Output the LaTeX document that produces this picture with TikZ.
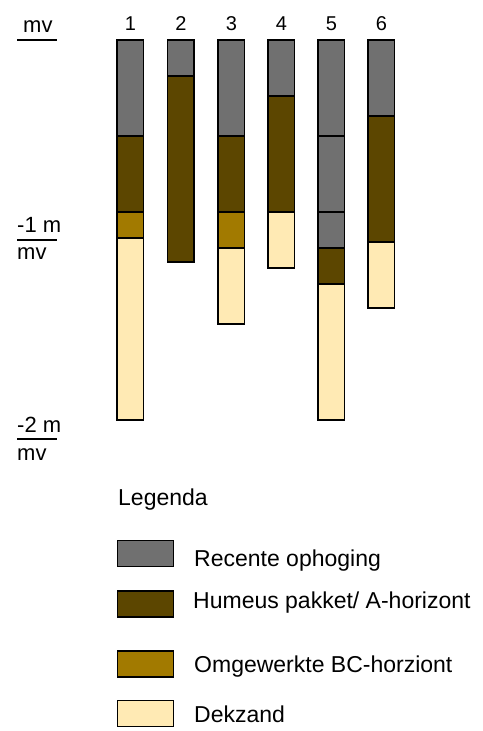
\documentclass[tikz,border=0pt]{standalone}
\usepackage{fontspec}
\setmainfont{Liberation Sans}
\definecolor{recent}{HTML}{707070}
\definecolor{humeus}{HTML}{5C4600}
\definecolor{bchor}{HTML}{A27A00}
\definecolor{dekzand}{HTML}{FFEAB4}
\begin{document}
\begin{tikzpicture}[x=1pt,y=-1pt,
  layer/.style={draw=black, line width=1.2pt},
  lbl/.style={inner sep=0pt, anchor=base west, font=\fontsize{23}{27}\selectfont},
  num/.style={inner sep=0pt, anchor=base, font=\fontsize{20}{24}\selectfont},
  scaleline/.style={draw=black, line width=1.2pt}]
\useasboundingbox (0,0) rectangle (482,731);
% columns
\foreach \x/\a/\b/\c in {
  117/40/136/recent, 117/136/212/humeus, 117/212/238/bchor, 117/238/420/dekzand,
  167.5/40/76/recent, 167.5/76/262/humeus,
  218/40/136/recent, 218/136/212/humeus, 218/212/248/bchor, 218/248/324/dekzand,
  268/40/96/recent, 268/96/212/humeus, 268/212/268/dekzand,
  318/40/136/recent, 318/136/212/recent, 318/212/248/recent, 318/248/284/humeus, 318/284/420/dekzand,
  368/40/116/recent, 368/116/242/humeus, 368/242/308/dekzand}
  \draw[layer, fill=\c] (\x,\a) rectangle (\x+26.5,\b);
% column numbers
\foreach \i/\x in {1/130.5, 2/181, 3/231.5, 4/281.5, 5/331.5, 6/381.5}
  \node[num] (n\i) at (\x,30) {\i};
% depth scale
\node[lbl, font=\fontsize{22}{26}\selectfont] (mv0) at (23,32) {mv};
\coordinate (s0a) at (17,40); \coordinate (s0b) at (57,40);
\draw[scaleline] (s0a) -- (s0b);
\node[lbl, font=\fontsize{22}{26}\selectfont] (m1) at (17,232) {-1 m};
\coordinate (s1a) at (17,240); \coordinate (s1b) at (57,240);
\draw[scaleline] (s1a) -- (s1b);
\node[lbl, font=\fontsize{22}{26}\selectfont] (mv1) at (17,259) {mv};
\node[lbl, font=\fontsize{22}{26}\selectfont] (m2) at (17,432) {-2 m};
\coordinate (s2a) at (17,439); \coordinate (s2b) at (57,439);
\draw[scaleline] (s2a) -- (s2b);
\node[lbl, font=\fontsize{22}{26}\selectfont] (mv2) at (17,460) {mv};
% legend
\node[lbl] (leg) at (118,505) {Legenda};
\draw[layer, fill=recent] (117.5,540.5) rectangle (173.5,566.5);
\draw[layer, fill=humeus] (117.5,591) rectangle (173.5,617);
\draw[layer, fill=bchor] (117.5,651) rectangle (173.5,677);
\draw[layer, fill=dekzand] (117.5,700.5) rectangle (173.5,726.5);
\node[lbl] (t1) at (194,566) {Recente ophoging};
\node[lbl] (t2) at (193,608) {Humeus pakket/ A-horizont};
\node[lbl] (t3) at (194,672) {Omgewerkte BC-horziont};
\node[lbl] (t4) at (194,722) {Dekzand};
\end{tikzpicture}
\end{document}
